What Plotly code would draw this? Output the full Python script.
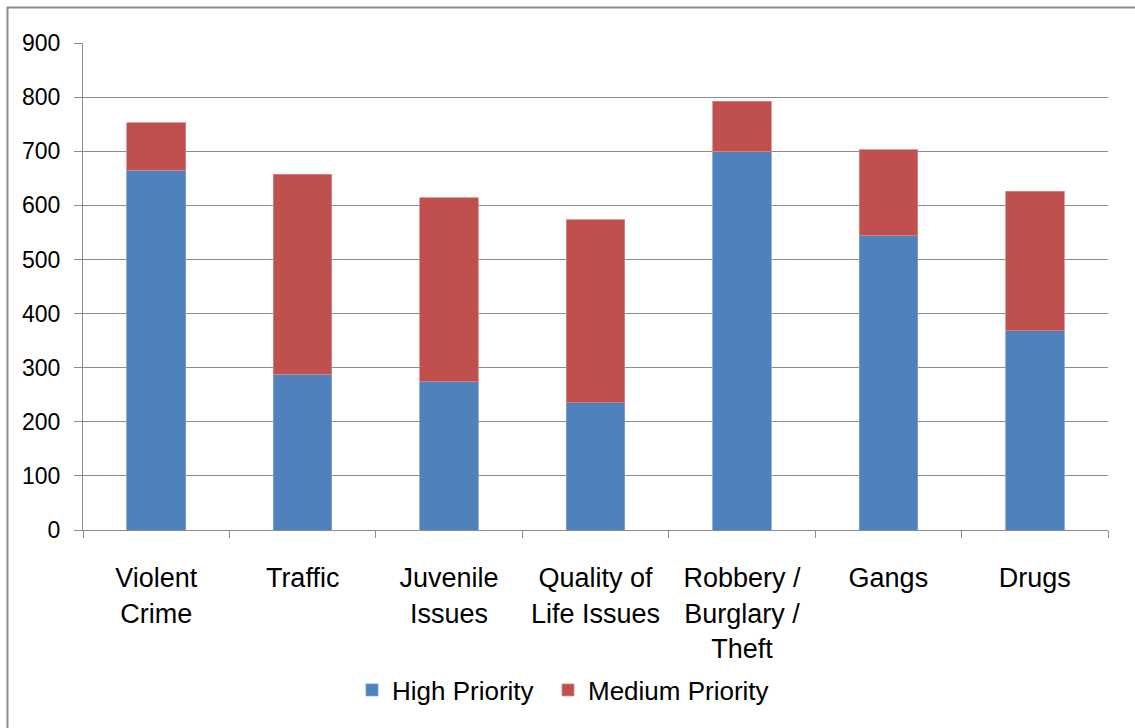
import plotly.graph_objects as go

categories = [
    "Violent<br>Crime",
    "Traffic",
    "Juvenile<br>Issues",
    "Quality of<br>Life Issues",
    "Robbery /<br>Burglary /<br>Theft",
    "Gangs",
    "Drugs",
]
high_priority = [665, 288, 274, 235, 699, 544, 368]
medium_priority = [88, 369, 340, 338, 93, 159, 258]
y_ticks = [0, 100, 200, 300, 400, 500, 600, 700, 800, 900]

W, H = 1135, 728
L, R, T, B = 83, 27, 43, 198
pw, ph = W - L - R, H - T - B

font_family = "Liberation Sans, Arial, sans-serif"

fig = go.Figure()
fig.add_trace(go.Bar(
    name="High Priority", x=categories, y=high_priority, legend="legend",
    marker=dict(color="#4F81BD", line=dict(color="#7BA0D0", width=0.8)),
))
fig.add_trace(go.Bar(
    name="Medium Priority", x=categories, y=medium_priority, legend="legend2",
    marker=dict(color="#C0504D", line=dict(color="#D98886", width=0.8)),
))


def px_x(px):
    return (px - L) / pw


def px_y(py):
    return (H - B - py) / ph


# outer chart frame
fig.add_shape(
    type="rect", xref="paper", yref="paper",
    x0=px_x(7.5), x1=px_x(1145), y0=px_y(7.5), y1=px_y(740),
    line=dict(color="#8c8c8c", width=2), fillcolor="rgba(0,0,0,0)",
    layer="below",
)

legend_common = dict(
    orientation="h", yanchor="middle", xanchor="left", y=px_y(690),
    font=dict(size=26, family=font_family), itemwidth=30,
    bgcolor="rgba(0,0,0,0)",
)

fig.update_layout(
    width=W, height=H,
    margin=dict(l=L, r=R, t=T, b=B),
    barmode="stack",
    bargap=0.6,
    plot_bgcolor="white",
    paper_bgcolor="white",
    font=dict(family=font_family, color="#000000"),
    showlegend=True,
    legend=dict(x=px_x(352), **legend_common),
    legend2=dict(x=px_x(548), **legend_common),
    xaxis=dict(
        showline=True, linecolor="#8c8c8c", linewidth=1,
        ticks="outside", tickson="boundaries", ticklen=7, tickcolor="#8c8c8c",
        tickfont=dict(size=27, family=font_family),
        ticklabelstandoff=24,
        showgrid=False,
    ),
    yaxis=dict(
        range=[0, 900], tickvals=y_ticks,
        showline=True, linecolor="#8c8c8c", linewidth=1,
        ticks="outside", ticklen=8, tickcolor="#8c8c8c",
        showgrid=True, gridcolor="#8c8c8c", gridwidth=1,
        tickfont=dict(size=23, family=font_family),
        ticklabelstandoff=9,
        zeroline=False,
    ),
)

fig.write_html("out.html")
